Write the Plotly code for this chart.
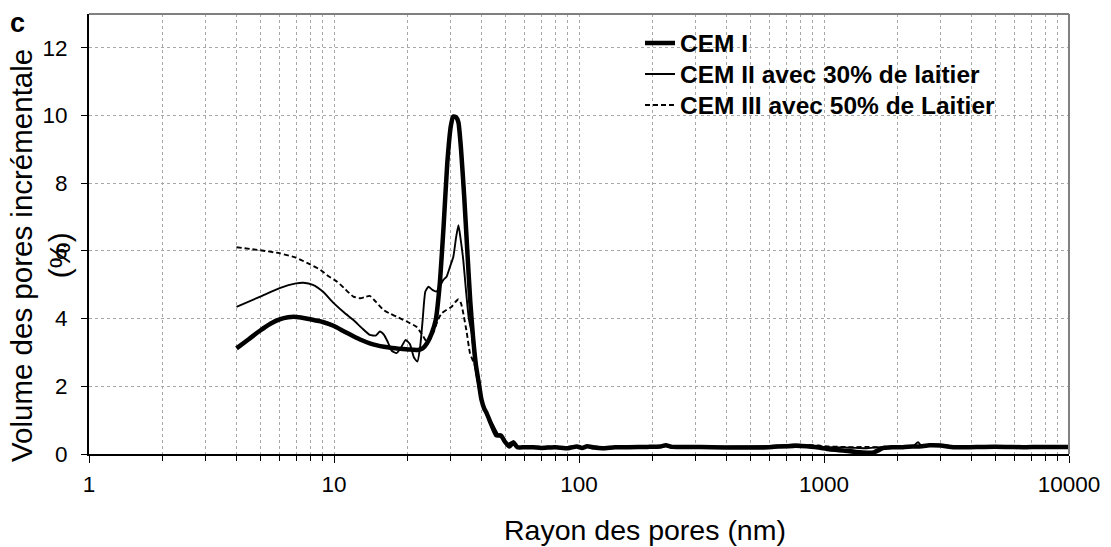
import plotly.graph_objects as go

# ---------------- data ----------------
cem1_x = [4.0, 4.5, 5.0, 5.5, 6.0, 6.5, 7.0, 7.5, 8.0, 9.0, 10.0, 11.0, 12.0, 13.0, 14.0, 15.0,
          16.0, 17.0, 18.0, 19.0, 20.0, 21.0, 22.0, 23.0, 24.0, 25.0, 26.0, 27.0, 28.0, 29.0,
          30.0, 30.7, 31.5, 32.2, 33.0, 34.0, 35.0, 36.0, 37.0, 38.0, 39.0, 40.0, 41.0, 42.0,
          44.0, 46.0, 48.0, 50.0, 52.0, 54.0, 56.0, 60.0,
          65, 70, 80, 90, 98, 103, 108, 115, 125, 140, 160, 190, 215, 226, 240, 280, 350, 450,
          550, 650, 750, 850, 950, 1050, 1200, 1350, 1500, 1600, 1750, 1900, 2100, 2300, 2420,
          2500, 2700, 3000, 3300, 3800, 4500, 5500, 6500, 7500, 9000, 10000]
cem1_y = [3.12, 3.40, 3.65, 3.85, 3.98, 4.04, 4.05, 4.02, 3.98, 3.90, 3.78, 3.62, 3.48, 3.36, 3.27, 3.21,
          3.17, 3.14, 3.12, 3.10, 3.09, 3.08, 3.07, 3.12, 3.28, 3.55, 3.95, 5.00, 6.70, 8.60,
          9.70, 9.97, 9.95, 9.80, 9.00, 7.60, 6.00, 4.50, 3.40, 2.60, 2.10, 1.60, 1.35, 1.20,
          0.85, 0.55, 0.55, 0.35, 0.22, 0.35, 0.20, 0.20,
          0.20, 0.18, 0.20, 0.17, 0.22, 0.18, 0.23, 0.19, 0.17, 0.20, 0.20, 0.21, 0.22, 0.26, 0.21, 0.21, 0.20, 0.19,
          0.19, 0.22, 0.24, 0.23, 0.19, 0.14, 0.10, 0.06, 0.04, 0.05, 0.18, 0.20, 0.20, 0.22, 0.22,
          0.23, 0.26, 0.25, 0.21, 0.20, 0.21, 0.21, 0.20, 0.21, 0.21, 0.21]

cem2_x = [4.0, 5.0, 6.0, 7.0, 7.5, 8.2, 9.0, 10.0, 11.0, 12.0, 13.0, 14.0, 14.8, 15.4, 16.0, 16.6,
          17.2, 18.0, 18.8, 19.6, 20.4, 21.2, 21.9, 22.5, 23.0, 23.6, 24.3, 25.2, 26.2, 27.0,
          28.0, 28.8, 29.8, 30.7, 31.5, 32.2, 32.8, 33.7, 34.5, 35.5, 36.5, 37.5, 38.9, 40.0,
          41.5, 43.0, 45.0, 47.0, 49.0, 51.0, 53.0, 55.0, 60.0,
          65, 70, 80, 90, 98, 103, 108, 115, 125, 140, 160, 190, 215, 226, 240, 280, 350, 450,
          550, 650, 750, 850, 950, 1050, 1200, 1350, 1500, 1600, 1750, 1900, 2100, 2300, 2420,
          2500, 2700, 3000, 3300, 3800, 4500, 5500, 6500, 7500, 9000, 10000]
cem2_y = [4.35, 4.65, 4.90, 5.04, 5.06, 5.00, 4.80, 4.45, 4.18, 3.96, 3.72, 3.52, 3.50, 3.62, 3.52, 3.30,
          3.05, 2.98, 3.15, 3.37, 3.25, 2.85, 2.73, 3.20, 3.95, 4.80, 4.94, 4.85, 4.80, 4.95,
          5.15, 5.24, 5.55, 5.83, 6.40, 6.76, 6.40, 5.73, 4.90, 4.00, 3.57, 2.70, 2.00, 1.55,
          1.30, 1.05, 0.80, 0.55, 0.45, 0.30, 0.35, 0.22, 0.20,
          0.21, 0.20, 0.19, 0.21, 0.24, 0.20, 0.22, 0.20, 0.19, 0.21, 0.21, 0.22, 0.21, 0.24, 0.21, 0.22, 0.21, 0.22,
          0.23, 0.25, 0.28, 0.26, 0.22, 0.20, 0.19, 0.18, 0.17, 0.19, 0.20, 0.21, 0.22, 0.22, 0.35,
          0.24, 0.27, 0.26, 0.23, 0.21, 0.22, 0.22, 0.21, 0.22, 0.22, 0.22]

cem3_x = [4.0, 5.0, 6.0, 7.0, 8.0, 8.8, 9.5, 10.3, 11.0, 12.0, 12.8, 13.4, 14.0, 14.8, 15.9, 17.0,
          18.0, 20.0, 21.7, 22.8, 23.9, 24.6, 25.4, 26.5, 27.5, 28.8, 30.2, 31.2, 32.2, 33.0,
          33.7, 34.8, 35.9, 37.7, 39.0, 40.0, 41.5, 43.0, 45.0, 47.0, 49.0, 51.0, 54.0, 57.0, 60.0,
          65, 70, 80, 90, 98, 103, 108, 115, 125, 140, 160, 190, 215, 226, 240, 280, 350, 450,
          550, 650, 750, 850, 950, 1050, 1200, 1350, 1500, 1600, 1750, 1900, 2100, 2300, 2420,
          2500, 2700, 3000, 3300, 3800, 4500, 5500, 6500, 7500, 9000, 10000]
cem3_y = [6.11, 6.02, 5.93, 5.80, 5.60, 5.44, 5.25, 5.09, 4.90, 4.65, 4.60, 4.64, 4.67, 4.50, 4.26, 4.14,
          4.06, 3.90, 3.76, 3.55, 3.32, 3.38, 3.57, 3.95, 4.16, 4.26, 4.35, 4.48, 4.57, 4.45,
          4.16, 3.60, 2.98, 2.58, 2.00, 1.60, 1.30, 1.05, 0.75, 0.55, 0.50, 0.30, 0.30, 0.20, 0.20,
          0.22, 0.21, 0.22, 0.20, 0.23, 0.21, 0.21, 0.22, 0.21, 0.20, 0.22, 0.22, 0.23, 0.28, 0.22, 0.22, 0.21, 0.21,
          0.21, 0.23, 0.26, 0.27, 0.25, 0.22, 0.21, 0.20, 0.21, 0.20, 0.21, 0.22, 0.22, 0.23, 0.24,
          0.25, 0.28, 0.27, 0.23, 0.22, 0.23, 0.22, 0.22, 0.22, 0.22, 0.22]

series_names = ["CEM I", "CEM II avec 30% de laitier", "CEM III avec 50% de Laitier"]
x_tick_vals = [1, 10, 100, 1000, 10000]
x_tick_text = ["1", "10", "100", "1000", "10000"]
y_tick_vals = [0, 2, 4, 6, 8, 10, 12]
y_tick_text = ["0", "2", "4", "6", "8", "10", "12"]

# ---------------- figure ----------------
W, H = 1111, 547
L, R, T, B = 89, 42, 14, 93
PW, PH = W - L - R, H - T - B

def px_x(p):
    return (p - L) / PW

def px_y(p):
    return (H - B - p) / PH

FONT = "Liberation Sans, Arial, sans-serif"
GRID = "#a8a8a8"

fig = go.Figure()
fig.add_trace(go.Scatter(x=cem1_x, y=cem1_y, mode="lines", name=series_names[0], legend="legend",
                         line=dict(color="black", width=4.5, shape="spline", smoothing=0.5)))
fig.add_trace(go.Scatter(x=cem2_x, y=cem2_y, mode="lines", name=series_names[1], legend="legend2",
                         line=dict(color="black", width=1.9, shape="spline", smoothing=0.5)))
fig.add_trace(go.Scatter(x=cem3_x, y=cem3_y, mode="lines", name=series_names[2], legend="legend3",
                         line=dict(color="black", width=1.9, dash="5px,3px", shape="spline", smoothing=0.5)))

LEG_FONT = dict(family=FONT, size=24.5, color="black", weight="bold")

def leg(ycenter):
    return dict(x=px_x(640), y=px_y(ycenter), xanchor="left", yanchor="middle",
                bgcolor="rgba(0,0,0,0)", borderwidth=0, font=LEG_FONT, itemwidth=30)

fig.update_layout(
    width=W, height=H,
    margin=dict(l=L, r=R, t=T, b=B, pad=0),
    paper_bgcolor="white", plot_bgcolor="white",
    font=dict(family=FONT, color="black"),
    showlegend=True,
    legend=leg(43),
    legend2=leg(74),
    legend3=leg(105),
    xaxis=dict(
        type="log", range=[0, 4],
        tickvals=x_tick_vals, ticktext=x_tick_text,
        tickfont=dict(size=22.5, family=FONT),
        ticks="outside", ticklen=7, tickwidth=1, tickcolor="black",
        showline=True, linecolor="black", linewidth=2,
        showgrid=True, gridcolor=GRID, griddash="dot", gridwidth=1,
        minor=dict(dtick="D1", ticks="outside", ticklen=5, tickcolor="black",
                   showgrid=True, gridcolor=GRID, griddash="dot", gridwidth=1),
        zeroline=False, ticklabelstandoff=2,
    ),
    yaxis=dict(
        range=[0, 13],
        tickvals=y_tick_vals, ticktext=y_tick_text,
        tickfont=dict(size=22.5, family=FONT),
        ticks="outside", ticklen=6, tickwidth=1, tickcolor="black",
        showline=True, linecolor="black", linewidth=2,
        showgrid=True, gridcolor=GRID, griddash="dot", gridwidth=1,
        zeroline=False, ticklabelstandoff=9,
    ),
    shapes=[
        # legend white box
        dict(type="rect", xref="paper", yref="paper", layer="between",
             x0=px_x(555), x1=px_x(1020), y0=px_y(116), y1=px_y(27),
             fillcolor="white", line=dict(width=0)),
        # top and right frame lines
        dict(type="line", xref="paper", yref="paper", x0=0, x1=1, y0=1, y1=1,
             line=dict(color="#808080", width=2), layer="above"),
        dict(type="line", xref="paper", yref="paper", x0=1, x1=1, y0=0, y1=1,
             line=dict(color="#808080", width=2), layer="above"),
    ],
    annotations=[
        dict(text="<b>c</b>", xref="paper", yref="paper", x=px_x(8), y=px_y(23),
             xanchor="left", yanchor="middle", showarrow=False,
             font=dict(size=27, family=FONT, color="black")),
        dict(text="Rayon des pores (nm)", xref="paper", yref="paper",
             x=px_x(645), y=px_y(530), xanchor="center", yanchor="middle", showarrow=False,
             font=dict(size=28.5, family=FONT, color="black")),
        dict(text="Volume des pores incrémentale<br>(%)", xref="paper", yref="paper",
             x=px_x(40), y=px_y(256), xanchor="center", yanchor="middle", showarrow=False,
             textangle=-90, font=dict(size=29.5, family=FONT, color="black")),
    ],
)

fig.write_html("out.html")
